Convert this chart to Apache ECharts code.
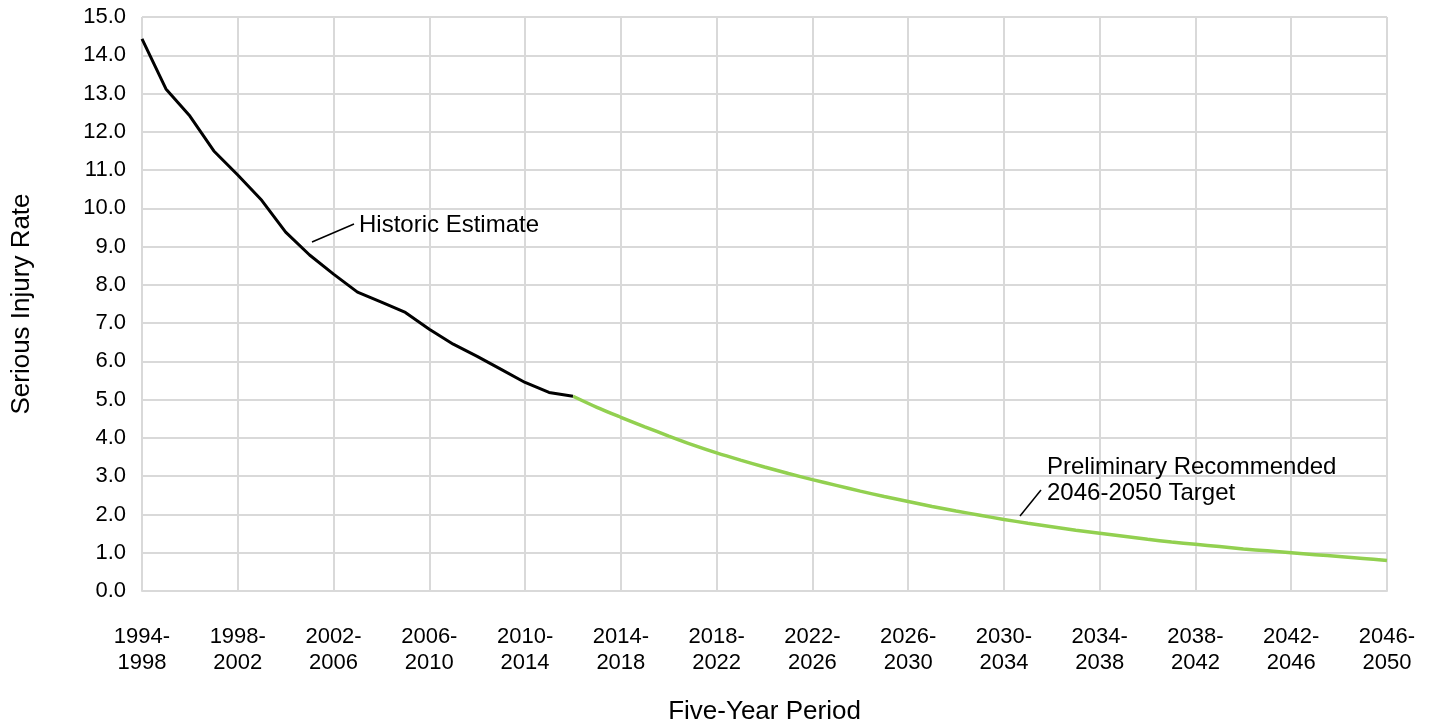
<!DOCTYPE html>
<html>
<head>
<meta charset="utf-8">
<title>Serious Injury Rate</title>
<script src="https://cdn.jsdelivr.net/npm/echarts@6/dist/echarts.min.js"></script>
<style>
  html, body { margin: 0; padding: 0; background: #fff; }
  #chart { width: 1434px; height: 727px; }
</style>
</head>
<body>
<div id="chart"></div>
<script>
// five-year periods, one per start year
const periods = [
  '1994-1998', '1995-1999', '1996-2000', '1997-2001', '1998-2002', '1999-2003', '2000-2004',
  '2001-2005', '2002-2006', '2003-2007', '2004-2008', '2005-2009', '2006-2010', '2007-2011',
  '2008-2012', '2009-2013', '2010-2014', '2011-2015', '2012-2016', '2013-2017', '2014-2018',
  '2015-2019', '2016-2020', '2017-2021', '2018-2022', '2019-2023', '2020-2024', '2021-2025',
  '2022-2026', '2023-2027', '2024-2028', '2025-2029', '2026-2030', '2027-2031', '2028-2032',
  '2029-2033', '2030-2034', '2031-2035', '2032-2036', '2033-2037', '2034-2038', '2035-2039',
  '2036-2040', '2037-2041', '2038-2042', '2039-2043', '2040-2044', '2041-2045', '2042-2046',
  '2043-2047', '2044-2048', '2045-2049', '2046-2050'
]

// historic estimate, 1994-1998 .. 2012-2016
const historic = [
  14.43, 13.12, 12.41, 11.50, 10.87, 10.21, 9.38, 8.78, 8.28, 7.81,
  7.55, 7.28, 6.84, 6.45, 6.13, 5.79, 5.45, 5.19, 5.09
]

// preliminary target path, 2012-2016 .. 2046-2050
const target = [
  5.09, 4.80, 4.54, 4.29, 4.05, 3.82, 3.61, 3.42, 3.24, 3.07,
  2.91, 2.76, 2.61, 2.47, 2.34, 2.21, 2.09, 1.98, 1.87, 1.77,
  1.68, 1.59, 1.51, 1.43, 1.35, 1.28, 1.22, 1.16, 1.10, 1.05,
  1.00, 0.95, 0.90, 0.85, 0.80
]

const yTicks = [0, 15, 1] // min, max, step

const font = '"Liberation Sans", Arial, sans-serif'
const gridColor = '#d9d9d9'

// pad the two series onto the shared category axis
const historicData = periods.map((p, i) => (i < historic.length ? historic[i] : null))
const targetStart = periods.length - target.length
const targetData = periods.map((p, i) => (i >= targetStart ? target[i - targetStart] : null))

const chart = echarts.init(document.getElementById('chart'))

chart.setOption({
  animation: false,
  textStyle: { fontFamily: font },
  grid: {
    left: 142,
    right: 47,
    top: 17,
    bottom: 136,
    outerBoundsMode: 'none'
  },
  xAxis: {
    type: 'category',
    data: periods,
    boundaryGap: false,
    name: 'Five-Year Period',
    nameLocation: 'middle',
    nameGap: 108,
    nameTextStyle: { fontSize: 26, color: '#000', fontFamily: font },
    axisLine: { lineStyle: { color: gridColor, width: 2 } },
    axisTick: { show: false },
    axisLabel: {
      interval: 3,
      margin: 33,
      fontSize: 22,
      lineHeight: 26,
      color: '#000',
      fontFamily: font,
      formatter: v => v.replace('-', '-\n')
    },
    splitLine: {
      show: true,
      interval: 3,
      lineStyle: { color: gridColor, width: 2 }
    }
  },
  yAxis: {
    type: 'value',
    min: yTicks[0],
    max: yTicks[1],
    interval: yTicks[2],
    name: 'Serious Injury Rate',
    nameLocation: 'middle',
    nameGap: 107,
    nameRotate: 90,
    nameTextStyle: { fontSize: 26, color: '#000', fontFamily: font },
    axisLine: { show: false },
    axisTick: { show: false },
    axisLabel: {
      margin: 16,
      fontSize: 22,
      color: '#000',
      fontFamily: font,
      formatter: v => v.toFixed(1)
    },
    splitLine: { lineStyle: { color: gridColor, width: 2 } }
  },
  series: [
    {
      name: 'Historic Estimate',
      type: 'line',
      data: historicData,
      showSymbol: false,
      lineStyle: { color: '#000', width: 3 },
      z: 3
    },
    {
      name: 'Preliminary Recommended 2046-2050 Target',
      type: 'line',
      data: targetData,
      showSymbol: false,
      smooth: 0.3,
      lineStyle: { color: '#92d050', width: 3.5 },
      z: 2
    }
  ],
  graphic: [
    // leader lines + annotation text, kept above the gridlines
    {
      type: 'line', z: 100,
      shape: { x1: 312, y1: 242, x2: 354, y2: 224 },
      style: { stroke: '#000', lineWidth: 1.5 }
    },
    {
      type: 'text', left: 359, top: 213, z: 100,
      style: { text: 'Historic Estimate', font: '24px ' + font, fill: '#000' }
    },
    {
      type: 'line', z: 100,
      shape: { x1: 1020, y1: 516, x2: 1041, y2: 490 },
      style: { stroke: '#000', lineWidth: 1.5 }
    },
    {
      type: 'text', left: 1047, top: 454, z: 100,
      style: {
        text: 'Preliminary Recommended\n2046-2050 Target',
        font: '24px ' + font, fill: '#000', lineHeight: 26
      }
    }
  ]
})
</script>
</body>
</html>
